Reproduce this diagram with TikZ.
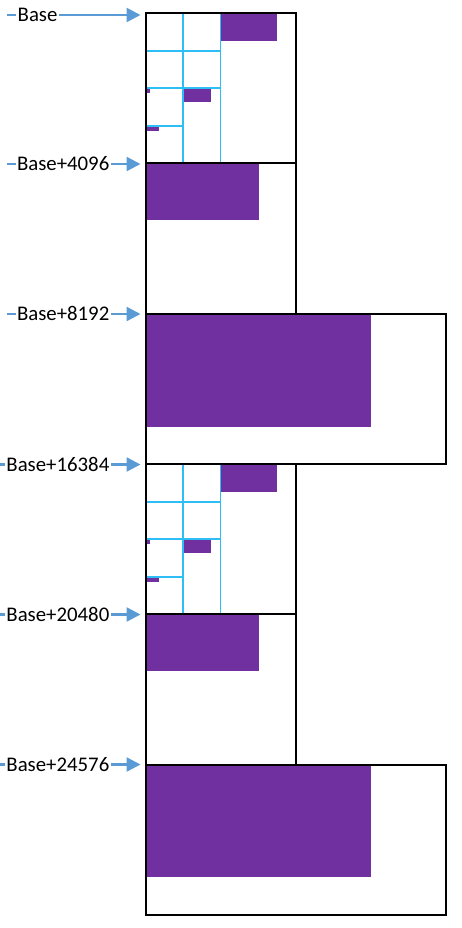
\documentclass[tikz,border=0pt]{standalone}
\usepackage{fontspec}
\setmainfont{Carlito}
\usetikzlibrary{arrows.meta}
\definecolor{arrblue}{RGB}{91,155,213}
\definecolor{gridcyan}{RGB}{45,190,245}
\definecolor{purp}{RGB}{112,48,160}
\tikzset{
  blockbox/.style={draw=black, line width=2pt, inner sep=0pt, outer sep=0pt, anchor=north west, minimum width=150pt, minimum height=150.33pt},
  wideblock/.style={blockbox, minimum width=300pt},
  arr/.style={draw=arrblue, line width=2.4pt, -{Triangle[length=14pt,width=14pt]}, shorten >=5.5pt},
  lab/.style={fill=white, inner xsep=1.5pt, inner ysep=1pt, font=\fontsize{20.8}{24}\selectfont},
  gridl/.style={draw=gridcyan, line width=1.5pt},
  used/.style={fill=purp}
}
\begin{document}
\begin{tikzpicture}[x=1pt,y=-1pt]
\useasboundingbox[fill=white] (0,0) rectangle (461,928);
% ---- purple fills and grids for the two quad-split blocks
\foreach \o in {0,451}{
  \begin{scope}[yshift=-\o pt]
    \fill[used] (221,13) rectangle (277.3,41);
    \fill[used] (183.7,88) rectangle (211.3,102.3);
    \fill[used] (146,88) rectangle (150,93);
    \fill[used] (146,126) rectangle (159.3,131);
    \draw[gridl] (183,13) -- (183,163.3);
    \draw[gridl] (220.5,13) -- (220.5,163.3);
    \draw[gridl] (146,51) -- (220.5,51);
    \draw[gridl] (146,88) -- (220.5,88);
    \draw[gridl] (146,126) -- (183,126);
  \end{scope}
}
% ---- purple fills for the other blocks
\fill[used] (146,163.3) rectangle (258.5,219.5);
\fill[used] (146,313.7) rectangle (371,426.7);
\fill[used] (146,614.3) rectangle (258.5,670.7);
\fill[used] (146,764.7) rectangle (371,877.3);
% ---- block outlines
\node[blockbox] (b1) at (146,13) {};
\node[blockbox] (b2) at (146,163.3) {};
\node[wideblock] (b3) at (146,313.7) {};
\node[blockbox] (b4) at (146,464) {};
\node[blockbox] (b5) at (146,614.3) {};
\node[wideblock] (b6) at (146,764.7) {};
% ---- arrows
\coordinate (s1) at (7,15);
\coordinate (s2) at (7,164);
\coordinate (s3) at (7,314);
\coordinate (s4) at (0,464.5);
\coordinate (s5) at (0,614.5);
\coordinate (s6) at (0,764.5);
\draw[arr] (s1) -- (s1 -| b1.west);
\draw[arr] (s2) -- (s2 -| b2.west);
\draw[arr] (s3) -- (s3 -| b3.west);
\draw[arr] (s4) -- (s4 -| b4.west);
\draw[arr] (s5) -- (s5 -| b5.west);
\draw[arr] (s6) -- (s6 -| b6.west);
% ---- labels
\node[lab, anchor=base west] (l1) at (16,21.7) {Base};
\node[lab, anchor=base east] (l2) at (111,170.7) {Base+4096};
\node[lab, anchor=base east] (l3) at (111,320.7) {Base+8192};
\node[lab, anchor=base east] (l4) at (111,471.2) {Base+16384};
\node[lab, anchor=base east] (l5) at (111,621.2) {Base+20480};
\node[lab, anchor=base east] (l6) at (111,771.2) {Base+24576};
\end{tikzpicture}
\end{document}
